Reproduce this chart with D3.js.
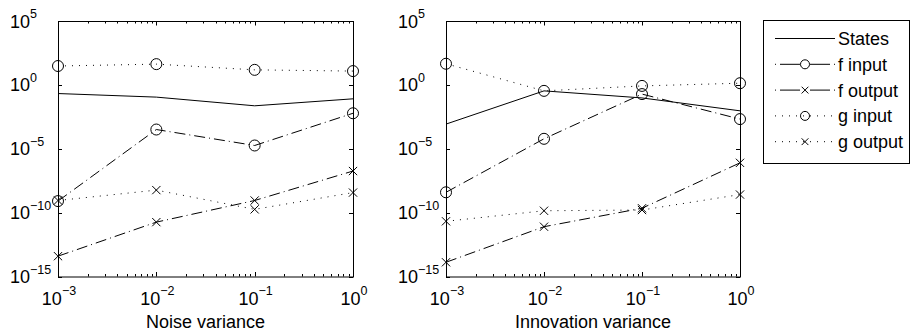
<!DOCTYPE html>
<html>
<head>
<meta charset="utf-8">
<script src="https://cdn.jsdelivr.net/npm/d3@7"></script>
<style>
  html, body { margin: 0; padding: 0; background: #fff; }
  svg { display: block; font-family: "Liberation Sans", Arial, sans-serif; }
</style>
</head>
<body>
<svg id="chart" width="911" height="334"></svg>
<script>
// ---- data ----
const xValues = [1e-3, 1e-2, 1e-1, 1];
const xTickExponents = ["\u22123", "\u22122", "\u22121", "0"];
const yTickValues = [1e5, 1, 1e-5, 1e-10, 1e-15];
const yTickExponents = ["5", "0", "\u22125", "\u221210", "\u221215"];
const seriesNames = ["States", "f input", "f output", "g input", "g output"];

// Left panel: Noise variance
const noiseStates  = [0.21, 0.11, 0.023, 0.081];
const noiseFInput  = [8e-10, 3.2e-4, 1.8e-5, 6e-3];
const noiseFOutput = [3.9e-14, 1.8e-11, 8.9e-10, 1.8e-7];
const noiseGInput  = [30, 42, 15, 12];
const noiseGOutput = [8.9e-10, 5.8e-9, 1.8e-10, 3.7e-9];

// Right panel: Innovation variance
const innovStates  = [8.5e-4, 0.34, 0.095, 9.3e-3];
const innovFInput  = [3.9e-9, 6e-5, 0.19, 2.1e-3];
const innovFOutput = [1.3e-14, 7.9e-12, 2.2e-10, 7.9e-7];
const innovGInput  = [45, 0.34, 0.83, 1.35];
const innovGOutput = [2.1e-11, 1.4e-10, 1.6e-10, 2.6e-9];

const panelTitles = ["Noise variance", "Innovation variance"];

// ---- styles ----
const styles = [
  { dash: null,       legendDash: null,                  marker: null },
  { dash: "11,4,1,4", legendDash: "1,4,20,10,20,4,1",    marker: "circle" },
  { dash: "11,4,1,4", legendDash: "1,4,20,10,20,4,1",    marker: "x" },
  { dash: "1,6",      legendDash: "1,6",                 marker: "circle" },
  { dash: "1,6",      legendDash: "1,6",                 marker: "x" }
];

const svg = d3.select("#chart");
const fontSize = 18, supSize = 12.5;

const panels = [
  { x0: 58,  x1: 353, label: panelTitles[0],
    series: [noiseStates, noiseFInput, noiseFOutput, noiseGInput, noiseGOutput] },
  { x0: 446, x1: 740, label: panelTitles[1],
    series: [innovStates, innovFInput, innovFOutput, innovGInput, innovGOutput] }
];
const yTop = 21, yBot = 276.5;

function drawMarker(g, type, cx, cy, r) {
  if (type === "circle") {
    g.append("circle").attr("cx", cx).attr("cy", cy).attr("r", r)
      .attr("fill", "none").attr("stroke", "#000").attr("stroke-width", 1);
  } else if (type === "x") {
    const s = r * 0.75;
    g.append("path")
      .attr("d", `M${cx - s},${cy - s}L${cx + s},${cy + s}M${cx - s},${cy + s}L${cx + s},${cy - s}`)
      .attr("stroke", "#000").attr("stroke-width", 1).attr("fill", "none");
  }
}

panels.forEach(p => {
  const x = d3.scaleLog().domain([1e-3, 1]).range([p.x0, p.x1]);
  const y = d3.scaleLog().domain([1e-15, 1e5]).range([yBot, yTop]);
  const g = svg.append("g");

  // minor/major x ticks (top & bottom, inward)
  const minor = [];
  [1e-3, 1e-2, 1e-1].forEach(d => { for (let k = 2; k <= 9; k++) minor.push(d * k); });
  minor.forEach(v => {
    const xx = Math.round(x(v)) + 0.5;
    g.append("line").attr("x1", xx).attr("x2", xx).attr("y1", yBot).attr("y2", yBot - 2.5).attr("stroke", "#000");
    g.append("line").attr("x1", xx).attr("x2", xx).attr("y1", yTop).attr("y2", yTop + 2.5).attr("stroke", "#000");
  });
  xValues.forEach(v => {
    const xx = Math.round(x(v)) + 0.5;
    g.append("line").attr("x1", xx).attr("x2", xx).attr("y1", yBot).attr("y2", yBot - 4.5).attr("stroke", "#000");
    g.append("line").attr("x1", xx).attr("x2", xx).attr("y1", yTop).attr("y2", yTop + 4.5).attr("stroke", "#000");
  });
  yTickValues.forEach(v => {
    const yy = Math.round(y(v)) + 0.5;
    g.append("line").attr("x1", p.x0).attr("x2", p.x0 + 4).attr("y1", yy).attr("y2", yy).attr("stroke", "#000");
    g.append("line").attr("x1", p.x1).attr("x2", p.x1 - 4).attr("y1", yy).attr("y2", yy).attr("stroke", "#000");
  });

  // x tick labels
  xValues.forEach((v, i) => {
    const t = g.append("text").attr("x", x(v) + 1).attr("y", 305)
      .attr("text-anchor", "middle").attr("font-size", fontSize).attr("fill", "#000");
    t.append("tspan").text("10");
    t.append("tspan").attr("font-size", supSize).attr("dy", -10).text(xTickExponents[i]);
  });
  // y tick labels
  yTickValues.forEach((v, i) => {
    const t = g.append("text").attr("x", p.x0 - 48).attr("y", y(v) + 6.5)
      .attr("font-size", fontSize).attr("fill", "#000");
    t.append("tspan").text("10");
    t.append("tspan").attr("font-size", supSize).attr("dy", -9.5).text(yTickExponents[i]);
  });

  // x axis label
  g.append("text").attr("x", (p.x0 + p.x1) / 2).attr("y", 327.5)
    .attr("text-anchor", "middle").attr("font-size", fontSize).attr("fill", "#000").text(p.label);

  // series
  const line = d3.line().x((d, i) => x(xValues[i])).y(d => y(d));
  p.series.forEach((vals, si) => {
    const st = styles[si];
    g.append("path").datum(vals).attr("d", line)
      .attr("fill", "none").attr("stroke", "#000").attr("stroke-width", 1)
      .attr("stroke-dasharray", st.dash);
    if (st.marker) vals.forEach((v, i) => drawMarker(g, st.marker, x(xValues[i]), y(v), 5.5));
  });

  // frame
  g.append("rect").attr("x", p.x0 + 0.5).attr("y", yTop + 0.5)
    .attr("width", p.x1 - p.x0).attr("height", yBot - yTop)
    .attr("fill", "none").attr("stroke", "#000").attr("stroke-width", 1);
});

// legend
const lg = svg.append("g");
lg.append("rect").attr("x", 763.5).attr("y", 20.5).attr("width", 146).attr("height", 143)
  .attr("fill", "#fff").attr("stroke", "#000").attr("stroke-width", 1);
seriesNames.forEach((name, i) => {
  const yy = 38.5 + i * 25.8;
  const st = styles[i];
  lg.append("line").attr("x1", 775).attr("x2", 835).attr("y1", yy).attr("y2", yy)
    .attr("stroke", "#000").attr("stroke-width", 1)
    .attr("stroke-dasharray", st.legendDash);
  if (st.marker) drawMarker(lg, st.marker, 805, yy, 4.5);
  lg.append("text").attr("x", 838).attr("y", yy + 6.5).attr("font-size", fontSize).attr("fill", "#000").text(name);
});
</script>
</body>
</html>
